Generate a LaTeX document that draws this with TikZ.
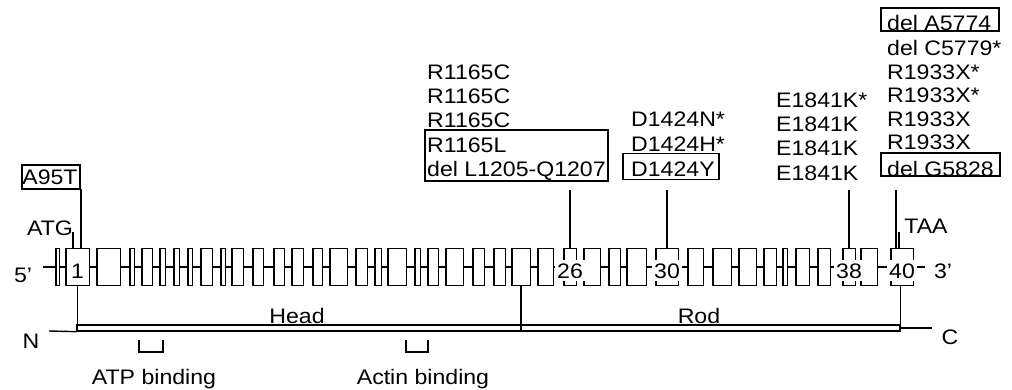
\documentclass[tikz,border=0pt]{standalone}
\usepackage{fontspec}
\setmainfont{Liberation Sans}[FakeStretch=1.1]
\begin{document}
\begin{tikzpicture}[x=1pt,y=-1pt,
  every node/.style={font=\fontsize{21}{24}\selectfont},
  lbl/.style={inner sep=0, anchor=base west},
  ctr/.style={inner sep=0, anchor=base},
  exon/.style={draw, fill=white, line width=1.5pt, minimum height=37, inner sep=0},
  exnum/.style={fill=white, inner xsep=2.5pt, inner ysep=3pt, anchor=base},
  mbox/.style={draw, line width=1.2pt, inner sep=0},
  conn/.style={line width=1.4pt},
  brk/.style={line width=1.4pt}]
\useasboundingbox (0,0) rectangle (1012,389);

% gene backbone
\coordinate (fivep) at (43,267);
\coordinate (threep) at (925,267);
\draw[conn] (fivep) -- (threep);

% exons
\foreach \a/\b [count=\i from 0] in {55/60,65/90,96/121,129/135,141/153,159/166,173/180,187/193,200/213,220/226,231/244,252/264,273/285,291/304,312/323,329/348,355/368,374/382,387/407,414/421,427/439,445/464,472/485,493/506,511/531,537/554,563/577,583/601,608/621,626/647,655/679,687/704,712/732,738/757,763/777,782/788,795/810,817/831,842/856,860/878,890/914}{
  \node[exon, minimum width={\b-\a-1.5}] (e\i) at ({(\a+\b)/2},267) {};
}

% exon numbers
\node[ctr] (n1) at (e1 |- 0,278) {1};
\node[exnum] (n26) at (e26 |- 0,278) {26};
\node[exnum] (n30) at (e30 |- 0,278) {30};
\node[exnum] (n38) at (e38 |- 0,278) {38};
\node[exnum] (n40) at (e40 |- 0,278) {40};

% ends
\node[ctr] (l5) at (23,282) {5'};
\node[ctr] (l3) at (943,278) {3'};
\node[ctr] (atg) at (50,235) {ATG};
\node[ctr] (taa) at (926,233) {TAA};
\coordinate (atgc) at (73,232);
\coordinate (taac) at (899,232);
\draw[conn] (atgc) -- (atgc |- e1.north);
\draw[conn] (taac) -- (taac |- e40.north);

% protein bar
\node[draw, line width=1.3pt, minimum width=823, minimum height=6, inner sep=0] (bar) at (488.5,328) {};
\draw[conn] (e1.south) -- (e1.south |- bar.south);
\draw[conn] (e24.south) -- (e24.south |- bar.south);
\draw[conn] (bar.east |- e40.south) -- (bar.south east);
\coordinate (nend) at (49,331);
\coordinate (cend) at (932,328);
\draw[conn] (nend) -- (bar.south west);
\draw[conn] (bar.east) -- (cend);
\node[ctr] (nlab) at (31,348) {N};
\node[ctr] (clab) at (950,344) {C};
\node[ctr] (head) at (297,323) {Head};
\node[ctr] (rod) at (699,323) {Rod};

% binding sites
\draw[brk] (139,340) -- (139,352) -- (163,352) -- (163,340);
\draw[brk] (406,340) -- (406,352) -- (428,352) -- (428,340);
\node[ctr] (atp) at (154,384) {ATP binding};
\node[ctr] (actin) at (423,384) {Actin binding};

% A95T
\node[mbox, minimum width=58, minimum height=24] (ba95) at (51,177) {};
\node[ctr] (a95) at (50,184.5) {A95T};
\coordinate (m1) at (81,189);
\draw[conn] (m1) -- (m1 |- e1.north);

% exon 26 mutations
\node[lbl] (r1) at (427,79) {R1165C};
\node[lbl] (r2) at (427,103) {R1165C};
\node[lbl] (r3) at (427,127) {R1165C};
\node[lbl] (r4) at (427,152) {R1165L};
\node[lbl] (r5) at (427,176) {del L1205-Q1207};
\node[mbox, minimum width=183, minimum height=51] (bR) at (516.5,155.5) {};
\coordinate (m26) at (570,190);
\draw[conn] (m26) -- (e26.north);

% exon 30 mutations
\node[lbl] (d1) at (631,126) {D1424N*};
\node[lbl] (d2) at (631,151) {D1424H*};
\node[lbl] (d3) at (631,176) {D1424Y};
\node[mbox, minimum width=96, minimum height=26] (bD) at (671,166.5) {};
\coordinate (m30) at (667,190);
\draw[conn] (m30) -- (e30.north);

% exon 38 mutations
\node[lbl] (k1) at (776,107) {E1841K*};
\node[lbl] (k2) at (776,131) {E1841K};
\node[lbl] (k3) at (776,155) {E1841K};
\node[lbl] (k4) at (776,180) {E1841K};
\coordinate (m38) at (849,190);
\draw[conn] (m38) -- (e38.north);

% exon 40 mutations
\node[lbl] (x1) at (887,30) {del A5774};
\node[lbl] (x2) at (887,55) {del C5779*};
\node[lbl] (x3) at (887,79) {R1933X*};
\node[lbl] (x4) at (887,102) {R1933X*};
\node[lbl] (x5) at (887,126) {R1933X};
\node[lbl] (x6) at (887,149) {R1933X};
\node[lbl] (x7) at (887,176) {del G5828};
\node[mbox, minimum width=118, minimum height=23] (bA) at (940,19.5) {};
\node[mbox, minimum width=119, minimum height=23] (bG) at (940.5,164.5) {};
\coordinate (m40) at (896,190);
\draw[conn] (m40) -- (m40 |- e40.north);
\end{tikzpicture}
\end{document}
